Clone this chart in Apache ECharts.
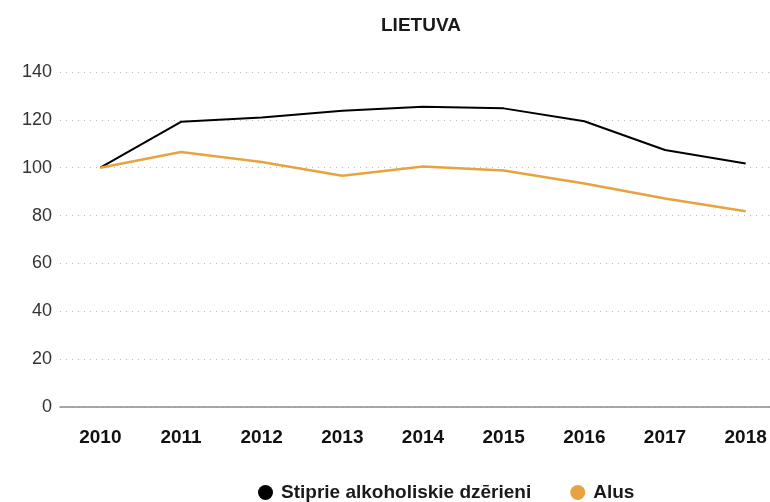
<!DOCTYPE html>
<html>
<head>
<meta charset="utf-8">
<script src="https://cdn.jsdelivr.net/npm/echarts@6/dist/echarts.min.js"></script>
<style>
  html, body { margin: 0; padding: 0; background: #fff; }
  #chart { width: 770px; height: 502px; }
</style>
</head>
<body>
<div id="chart"></div>
<script>
// data
var years = ['2010', '2011', '2012', '2013', '2014', '2015', '2016', '2017', '2018']
var spiritsData = [100, 119.2, 121, 123.8, 125.5, 124.8, 119.4, 107.4, 101.8]
var beerData = [100, 106.6, 102.4, 96.6, 100.5, 98.8, 93.4, 87.1, 81.8]
var seriesNames = ['Stiprie alkoholiskie dzērieni', 'Alus']
var lineColors = ['#000000', '#e5a440']
var yTicks = { min: 0, max: 140, interval: 20 }

var fontFamily = '"Liberation Sans", Arial, sans-serif'
var chart = echarts.init(document.getElementById('chart'))

var sequenceDatas = [spiritsData, beerData]
var serieDatas = []
for (var i = 0; i < sequenceDatas.length; i++) {
  serieDatas.push({
    name: seriesNames[i],
    type: 'line',
    data: sequenceDatas[i],
    showSymbol: false,
    symbol: 'circle',
    animation: false,
    lineStyle: { color: lineColors[i], width: i === 0 ? 2 : 2.5 },
    itemStyle: { color: lineColors[i] }
  })
}

chart.setOption({
  textStyle: { fontFamily: fontFamily },
  title: {
    text: 'LIETUVA',
    left: 376,
    top: 11,
    textStyle: { fontSize: 19, fontWeight: 'bold', color: '#1a1a1a', fontFamily: fontFamily }
  },
  // plot runs past the right edge, the last category is cut off like in the source
  grid: {
    top: 72,
    left: 60,
    width: 726,
    bottom: 95,
    containLabel: false,
    outerBoundsMode: 'none'
  },
  xAxis: {
    type: 'category',
    data: years,
    boundaryGap: true,
    axisTick: { show: false },
    axisLine: { lineStyle: { color: '#8c8c8c', width: 1.5 } },
    axisLabel: {
      margin: 21,
      fontSize: 19,
      fontWeight: 'bold',
      color: '#111',
      fontFamily: fontFamily
    }
  },
  yAxis: {
    type: 'value',
    min: yTicks.min,
    max: yTicks.max,
    interval: yTicks.interval,
    axisLine: { show: false },
    axisTick: { show: false },
    axisLabel: { margin: 8, fontSize: 18, color: '#333', fontFamily: fontFamily },
    splitLine: {
      lineStyle: { color: '#bbbbbb', width: 1, type: [1, 5] }
    }
  },
  legend: {
    data: seriesNames,
    left: 253,
    top: 478,
    icon: 'circle',
    itemWidth: 15,
    itemHeight: 15,
    itemGap: 39,
    textStyle: {
      fontSize: 19,
      fontWeight: 'bold',
      color: '#1a1a1a',
      padding: [0, 0, 0, 3],
      fontFamily: fontFamily
    }
  },
  series: serieDatas
})
</script>
</body>
</html>
